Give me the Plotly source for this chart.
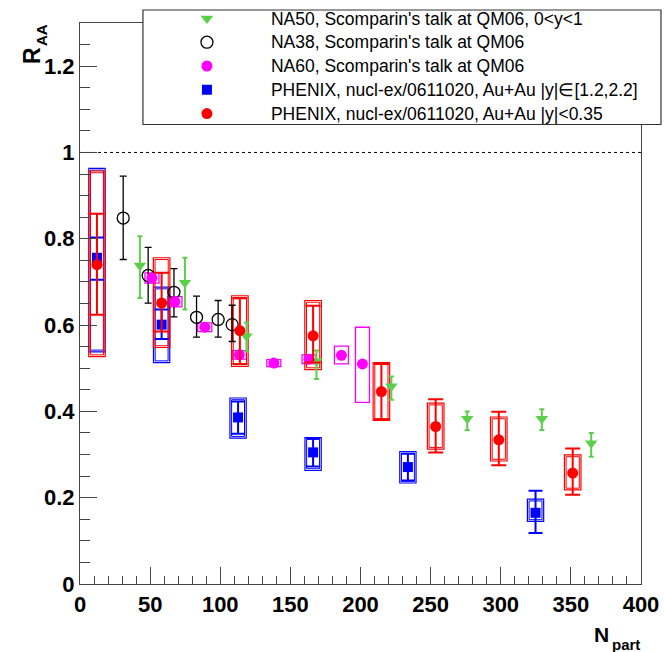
import plotly.graph_objects as go

# ---------------- data ----------------
# NA50, 0<y<1
na50_x = [42.7, 74.8, 118.7, 168.6, 222.0, 276.1, 329.3, 364.5]
na50_y = [0.738, 0.698, 0.574, 0.516, 0.458, 0.383, 0.383, 0.326]
na50_hi = [0.806, 0.756, 0.606, 0.541, 0.481, 0.400, 0.405, 0.350]
na50_lo = [0.663, 0.636, 0.539, 0.475, 0.427, 0.357, 0.357, 0.295]

# NA38
na38_x = [30.8, 48.6, 67.0, 83.1, 98.5, 108.5]
na38_y = [0.848, 0.715, 0.676, 0.618, 0.613, 0.601]
na38_hi = [0.945, 0.780, 0.731, 0.667, 0.657, 0.646]
na38_lo = [0.752, 0.651, 0.619, 0.572, 0.572, 0.562]

# NA60
na60_x = [51.3, 67.7, 89.0, 113.6, 138.2, 163.3, 186.4, 201.4]
na60_y = [0.709, 0.654, 0.595, 0.531, 0.512, 0.521, 0.530, 0.510]
na60_sys_hi = [0.721, 0.666, 0.605, 0.541, 0.520, 0.531, 0.551, 0.595]
na60_sys_lo = [0.697, 0.642, 0.585, 0.521, 0.504, 0.511, 0.510, 0.421]

# PHENIX forward |y| in [1.2,2.2]
phf_x = [12.1, 58.2, 112.7, 166.2, 233.8, 324.8]
phf_y = [0.756, 0.601, 0.386, 0.305, 0.271, 0.165]
phf_hi = [0.803, 0.636, 0.423, 0.338, 0.302, 0.216]
phf_lo = [0.705, 0.568, 0.348, 0.272, 0.240, 0.118]
phf_sys_hi = [0.963, 0.688, 0.431, 0.339, 0.307, 0.1965]
phf_sys_lo = [0.538, 0.513, 0.338, 0.263, 0.234, 0.145]

# PHENIX mid |y|<0.35
phm_x = [12.1, 58.2, 114.0, 166.2, 214.9, 253.6, 298.6, 351.3]
phm_y = [0.740, 0.651, 0.587, 0.575, 0.446, 0.365, 0.334, 0.257]
phm_hi = [0.858, 0.721, 0.662, 0.645, 0.510, 0.428, 0.399, 0.314]
phm_lo = [0.624, 0.585, 0.510, 0.513, 0.382, 0.305, 0.275, 0.207]
phm_sys_hi = [0.957, 0.756, 0.668, 0.657, 0.513, 0.419, 0.387, 0.299]
phm_sys_lo = [0.527, 0.548, 0.504, 0.497, 0.379, 0.3125, 0.285, 0.218]

x_ticks = [0, 50, 100, 150, 200, 250, 300, 350, 400]
y_ticks = [0, 0.2, 0.4, 0.6, 0.8, 1, 1.2]

names = [
    "NA50, Scomparin's talk at QM06, 0&lt;y&lt;1",
    "NA38, Scomparin's talk at QM06",
    "NA60, Scomparin's talk at QM06",
    "PHENIX, nucl-ex/0611020, Au+Au |y|∈[1.2,2.2]",
    "PHENIX, nucl-ex/0611020, Au+Au |y|&lt;0.35",
]

GREEN = "#5ccf4a"
MAGENTA = "#ff00ff"
BLUE = "#0000ff"
RED = "#ff0000"
FONT = "Liberation Sans, Arial, Helvetica, sans-serif"


def errs(y, hi, lo):
    return [h - v for h, v in zip(hi, y)], [v - l for v, l in zip(y, lo)]


def lname(s):
    return '<span style="font-size:17.5px">' + s + "</span>"


fig = go.Figure()

shapes = []


def add_boxes(xs, lo, hi, half, color, width=1.2, double=False):
    for x, l, h in zip(xs, lo, hi):
        shapes.append(dict(type="rect", xref="x", yref="y", x0=x - half, x1=x + half,
                           y0=l, y1=h, line=dict(color=color, width=width),
                           fillcolor="rgba(0,0,0,0)", layer="below"))
        if double:
            shapes.append(dict(type="rect", xref="x", yref="y", x0=x - half + 1.2, x1=x + half - 1.2,
                               y0=l + 0.004, y1=h - 0.004, line=dict(color=color, width=1),
                               fillcolor="rgba(0,0,0,0)", layer="below"))


add_boxes(na60_x, na60_sys_lo, na60_sys_hi, 5.0, MAGENTA, 1.3)
add_boxes(phf_x, phf_sys_lo, phf_sys_hi, 5.8, BLUE, 1.2, True)
add_boxes(phm_x, phm_sys_lo, phm_sys_hi, 5.9, RED, 1.2, True)

# NA50
up, dn = errs(na50_y, na50_hi, na50_lo)
fig.add_trace(go.Scatter(x=na50_x, y=na50_y, mode="markers", name=lname(names[0]),
                         marker=dict(symbol="triangle-down", size=11, color=GREEN),
                         error_y=dict(type="data", symmetric=False, array=up, arrayminus=dn,
                                      color=GREEN, thickness=2, width=2.5)))
# NA38
up, dn = errs(na38_y, na38_hi, na38_lo)
fig.add_trace(go.Scatter(x=na38_x, y=na38_y, mode="markers", name=lname(names[1]),
                         marker=dict(symbol="circle-open", size=12, color="black",
                                     line=dict(width=1.3, color="black")),
                         error_y=dict(type="data", symmetric=False, array=up, arrayminus=dn,
                                      color="black", thickness=1.3, width=3.5)))
# NA60
fig.add_trace(go.Scatter(x=na60_x, y=na60_y, mode="markers", name=lname(names[2]),
                         marker=dict(symbol="circle", size=11, color=MAGENTA)))
# PHENIX forward
up, dn = errs(phf_y, phf_hi, phf_lo)
fig.add_trace(go.Scatter(x=phf_x, y=phf_y, mode="markers", name=lname(names[3]),
                         marker=dict(symbol="square", size=10, color=BLUE),
                         error_y=dict(type="data", symmetric=False, array=up, arrayminus=dn,
                                      color=BLUE, thickness=2, width=7)))
# PHENIX mid
up, dn = errs(phm_y, phm_hi, phm_lo)
fig.add_trace(go.Scatter(x=phm_x, y=phm_y, mode="markers", name=lname(names[4]),
                         marker=dict(symbol="circle", size=11, color=RED),
                         error_y=dict(type="data", symmetric=False, array=up, arrayminus=dn,
                                      color=RED, thickness=2, width=7.5)))

# R_AA = 1 reference line
shapes.append(dict(type="line", xref="x", yref="y", x0=x_ticks[0], x1=x_ticks[-1], y0=1, y1=1,
                   line=dict(color="black", width=1, dash="dot"), layer="below"))

# legend frame (extends past plot frame as in reference)
PW, PH = 561.5, 561.0
shapes.append(dict(type="rect", xref="paper", yref="paper",
                   x0=(143 - 80) / PW, x1=(661.5 - 80) / PW,
                   y0=(584 - 124.5) / PH, y1=(584 - 10) / PH,
                   line=dict(color="#333333", width=1.2), fillcolor="white", layer="above"))

axis_common = dict(showgrid=False, zeroline=False, showline=True, mirror=True,
                   linecolor="#444444", linewidth=1.2, ticks="inside", tickcolor="#444444",
                   tickwidth=1, tickfont=dict(family=FONT, size=22, color="black", weight="bold"))


def px_x(px):
    return (px - 80) / PW


def px_y(py):
    return (584 - py) / PH


def label(text, cx, cy, size, angle=0):
    return dict(text=text, xref="paper", yref="paper", x=px_x(cx), y=px_y(cy),
                xanchor="center", yanchor="middle", textangle=angle, showarrow=False,
                font=dict(family=FONT, size=size, color="black", weight="bold"))


fig.update_layout(
    width=664, height=652, autosize=False,
    margin=dict(l=80, r=22.5, t=23, b=68, pad=0, autoexpand=False),
    paper_bgcolor="white", plot_bgcolor="white",
    xaxis=dict(range=[x_ticks[0], x_ticks[-1]], tickvals=x_ticks, ticklen=17,
               minor=dict(dtick=10, ticks="inside", ticklen=8, tickcolor="#444444"),
               **axis_common),
    yaxis=dict(range=[0, 1.3], tickvals=y_ticks, ticklen=17,
               minor=dict(dtick=0.05, tick0=0, ticks="inside", ticklen=10, tickcolor="#444444"),
               **axis_common),
    showlegend=True,
    legend=dict(x=px_x(143), y=px_y(1.5), xanchor="left", yanchor="top",
                bgcolor="rgba(0,0,0,0)", borderwidth=0, itemwidth=118,
                font=dict(family=FONT, size=16, color="black"), tracegroupgap=0),
    shapes=shapes,
    annotations=[
        label("R", 32, 56, 23, -90),
        label("AA", 42, 35, 15, -90),
        label("N", 602, 634, 21),
        label("part", 626, 644, 15),
    ],
)

fig.write_html("out.html")
